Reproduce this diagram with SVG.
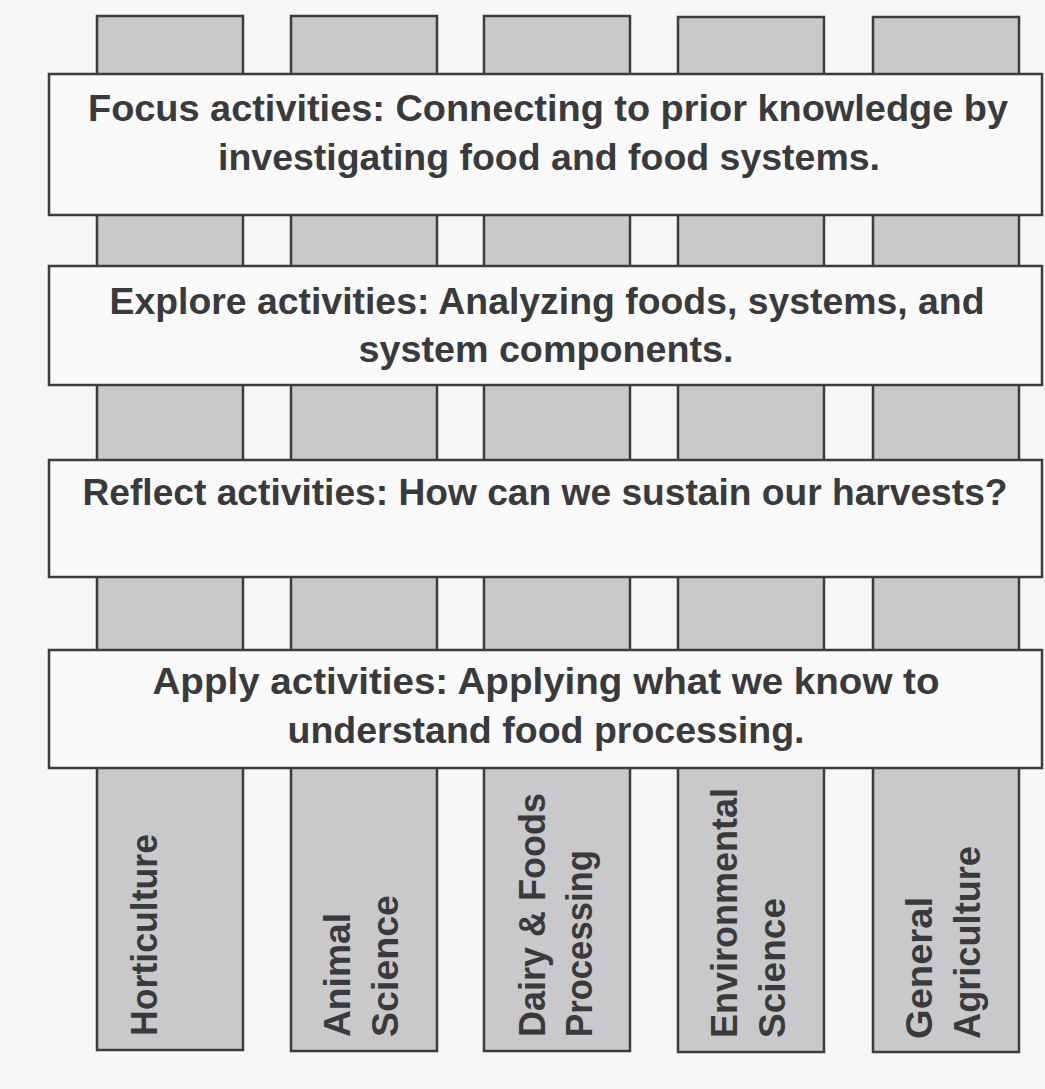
<svg xmlns="http://www.w3.org/2000/svg" width="1045" height="1089" viewBox="0 0 1045 1089">
  <style>
    .col { fill: #c9c9cb; stroke: #3c3c3e; stroke-width: 2.5; }
    .band { fill: #fafafb; stroke: #3c3c3e; stroke-width: 2.5; }
    .t { font-family: "Liberation Sans", Arial, sans-serif; font-size: 37px; font-weight: bold; fill: #3a3a3c; }
    .h { text-anchor: middle; }
  </style>
  <rect x="0" y="0" width="1045" height="1089" fill="#f6f6f8"/>

  <!-- vertical subject columns -->
  <g id="col-horticulture">
    <rect class="col" x="97" y="16" width="146" height="1034"/>
    <text class="t" transform="translate(157,1036) rotate(-90)" textLength="202" lengthAdjust="spacingAndGlyphs">Horticulture</text>
  </g>
  <g id="col-animal-science">
    <rect class="col" x="291" y="16" width="146" height="1035"/>
    <text class="t" transform="translate(350,1037) rotate(-90)" textLength="124" lengthAdjust="spacingAndGlyphs">Animal</text>
    <text class="t" transform="translate(398,1037) rotate(-90)" textLength="142" lengthAdjust="spacingAndGlyphs">Science</text>
  </g>
  <g id="col-dairy-foods">
    <rect class="col" x="484" y="16" width="146" height="1035"/>
    <text class="t" transform="translate(545,1037) rotate(-90)" textLength="244" lengthAdjust="spacingAndGlyphs">Dairy &amp; Foods</text>
    <text class="t" transform="translate(592,1037) rotate(-90)" textLength="187" lengthAdjust="spacingAndGlyphs">Processing</text>
  </g>
  <g id="col-environmental-science">
    <rect class="col" x="678" y="17" width="146" height="1035"/>
    <text class="t" transform="translate(737,1038) rotate(-90)" textLength="250" lengthAdjust="spacingAndGlyphs">Environmental</text>
    <text class="t" transform="translate(785,1038) rotate(-90)" textLength="140" lengthAdjust="spacingAndGlyphs">Science</text>
  </g>
  <g id="col-general-agriculture">
    <rect class="col" x="873" y="17" width="146" height="1035"/>
    <text class="t" transform="translate(932,1039) rotate(-90)" textLength="142" lengthAdjust="spacingAndGlyphs">General</text>
    <text class="t" transform="translate(980,1039) rotate(-90)" textLength="193" lengthAdjust="spacingAndGlyphs">Agriculture</text>
  </g>

  <!-- horizontal activity bands laid across the columns -->
  <g id="band-focus">
    <rect class="band" x="49" y="74" width="993" height="141"/>
    <text class="t h" x="548" y="121" textLength="920" lengthAdjust="spacingAndGlyphs">Focus activities: Connecting to prior knowledge by</text>
    <text class="t h" x="549" y="170" textLength="662" lengthAdjust="spacingAndGlyphs">investigating food and food systems.</text>
  </g>
  <g id="band-explore">
    <rect class="band" x="49" y="266" width="993" height="119"/>
    <text class="t h" x="547" y="314" textLength="875" lengthAdjust="spacingAndGlyphs">Explore activities: Analyzing foods, systems, and</text>
    <text class="t h" x="546" y="362" textLength="375" lengthAdjust="spacingAndGlyphs">system components.</text>
  </g>
  <g id="band-reflect">
    <rect class="band" x="49" y="460" width="993" height="117"/>
    <text class="t h" x="545" y="505" textLength="925" lengthAdjust="spacingAndGlyphs">Reflect activities: How can we sustain our harvests?</text>
  </g>
  <g id="band-apply">
    <rect class="band" x="49" y="650" width="993" height="118"/>
    <text class="t h" x="546" y="694" textLength="787" lengthAdjust="spacingAndGlyphs">Apply activities: Applying what we know to</text>
    <text class="t h" x="546" y="743" textLength="517" lengthAdjust="spacingAndGlyphs">understand food processing.</text>
  </g>
</svg>
